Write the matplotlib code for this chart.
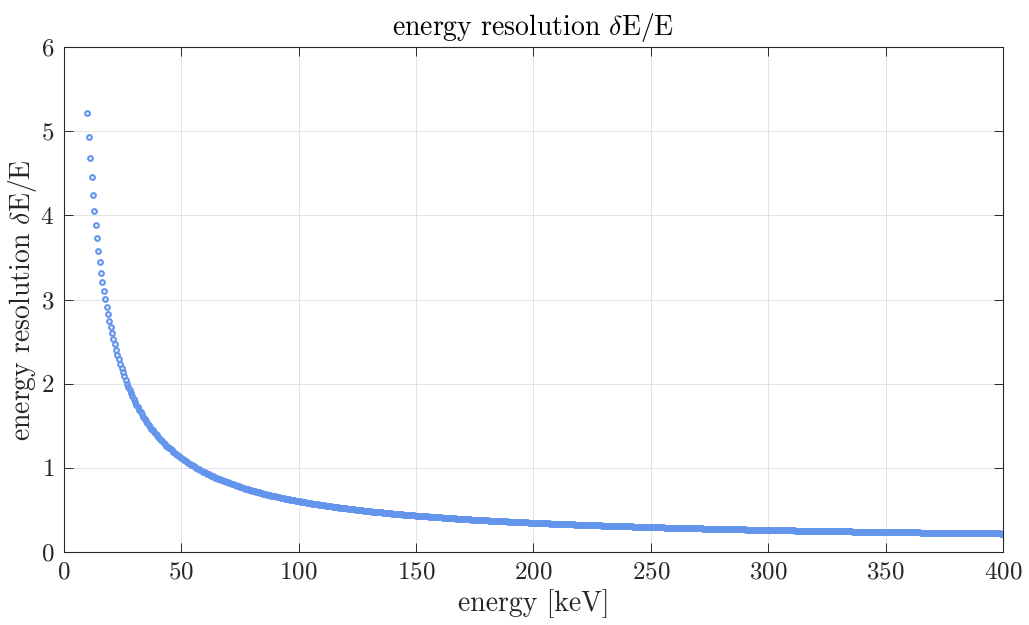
import numpy as np
import matplotlib
matplotlib.use("Agg")
import matplotlib.pyplot as plt

# energy grid of the measurement: starts at 10 keV, one point every 0.58 keV
energy_start = 10.0
energy_step = 0.58

# steep part, where the single circles can be read one by one
res_steep = [5.214, 4.928, 4.676, 4.451, 4.245, 4.055, 3.887, 3.726, 3.580, 3.447,
             3.320, 3.208, 3.103, 3.006, 2.914, 2.829, 2.747, 2.671, 2.598, 2.530,
             2.466, 2.404, 2.346, 2.290, 2.238, 2.186, 2.137, 2.090, 2.044, 2.001,
             1.959, 1.921, 1.884, 1.848, 1.814]

# flat tail (30.3 keV onwards), where the circles merge into one band
res_tail = [
    1.782, 1.750, 1.719, 1.690, 1.662, 1.634, 1.608, 1.582, 1.557, 1.533,
    1.510, 1.488, 1.466, 1.445, 1.424, 1.405, 1.385, 1.367, 1.348, 1.331,
    1.314, 1.297, 1.281, 1.265, 1.250, 1.235, 1.220, 1.206, 1.192, 1.178,
    1.165, 1.152, 1.140, 1.127, 1.115, 1.103, 1.092, 1.081, 1.070, 1.059,
    1.049, 1.038, 1.028, 1.018, 1.009, 0.999, 0.990, 0.981, 0.972, 0.963,
    0.955, 0.947, 0.938, 0.930, 0.922, 0.915, 0.907, 0.900, 0.892, 0.885,
    0.878, 0.871, 0.864, 0.857, 0.851, 0.844, 0.838, 0.832, 0.826, 0.820,
    0.814, 0.808, 0.802, 0.796, 0.791, 0.785, 0.780, 0.774, 0.769, 0.764,
    0.759, 0.754, 0.749, 0.744, 0.739, 0.735, 0.730, 0.725, 0.721, 0.716,
    0.712, 0.708, 0.703, 0.699, 0.695, 0.691, 0.687, 0.683, 0.679, 0.675,
    0.671, 0.667, 0.664, 0.660, 0.656, 0.653, 0.649, 0.646, 0.642, 0.639,
    0.635, 0.632, 0.629, 0.626, 0.622, 0.619, 0.616, 0.613, 0.610, 0.607,
    0.604, 0.601, 0.598, 0.595, 0.592, 0.589, 0.587, 0.584, 0.581, 0.578,
    0.576, 0.573, 0.570, 0.568, 0.565, 0.563, 0.560, 0.558, 0.555, 0.553,
    0.550, 0.548, 0.546, 0.543, 0.541, 0.539, 0.537, 0.534, 0.532, 0.530,
    0.528, 0.526, 0.523, 0.521, 0.519, 0.517, 0.515, 0.513, 0.511, 0.509,
    0.507, 0.505, 0.503, 0.501, 0.499, 0.498, 0.496, 0.494, 0.492, 0.490,
    0.488, 0.487, 0.485, 0.483, 0.481, 0.480, 0.478, 0.476, 0.475, 0.473,
    0.471, 0.470, 0.468, 0.466, 0.465, 0.463, 0.462, 0.460, 0.459, 0.457,
    0.456, 0.454, 0.453, 0.451, 0.450, 0.448, 0.447, 0.445, 0.444, 0.443,
    0.441, 0.440, 0.438, 0.437, 0.436, 0.434, 0.433, 0.432, 0.430, 0.429,
    0.428, 0.427, 0.425, 0.424, 0.423, 0.422, 0.420, 0.419, 0.418, 0.417,
    0.415, 0.414, 0.413, 0.412, 0.411, 0.410, 0.408, 0.407, 0.406, 0.405,
    0.404, 0.403, 0.402, 0.401, 0.400, 0.399, 0.397, 0.396, 0.395, 0.394,
    0.393, 0.392, 0.391, 0.390, 0.389, 0.388, 0.387, 0.386, 0.385, 0.384,
    0.383, 0.382, 0.381, 0.380, 0.379, 0.378, 0.378, 0.377, 0.376, 0.375,
    0.374, 0.373, 0.372, 0.371, 0.370, 0.369, 0.369, 0.368, 0.367, 0.366,
    0.365, 0.364, 0.363, 0.363, 0.362, 0.361, 0.360, 0.359, 0.358, 0.358,
    0.357, 0.356, 0.355, 0.354, 0.354, 0.353, 0.352, 0.351, 0.351, 0.350,
    0.349, 0.348, 0.348, 0.347, 0.346, 0.345, 0.345, 0.344, 0.343, 0.342,
    0.342, 0.341, 0.340, 0.340, 0.339, 0.338, 0.338, 0.337, 0.336, 0.336,
    0.335, 0.334, 0.334, 0.333, 0.332, 0.332, 0.331, 0.330, 0.330, 0.329,
    0.328, 0.328, 0.327, 0.326, 0.326, 0.325, 0.325, 0.324, 0.323, 0.323,
    0.322, 0.321, 0.321, 0.320, 0.320, 0.319, 0.319, 0.318, 0.317, 0.317,
    0.316, 0.316, 0.315, 0.314, 0.314, 0.313, 0.313, 0.312, 0.312, 0.311,
    0.311, 0.310, 0.310, 0.309, 0.308, 0.308, 0.307, 0.307, 0.306, 0.306,
    0.305, 0.305, 0.304, 0.304, 0.303, 0.303, 0.302, 0.302, 0.301, 0.301,
    0.300, 0.300, 0.299, 0.299, 0.298, 0.298, 0.297, 0.297, 0.296, 0.296,
    0.295, 0.295, 0.294, 0.294, 0.293, 0.293, 0.293, 0.292, 0.292, 0.291,
    0.291, 0.290, 0.290, 0.289, 0.289, 0.288, 0.288, 0.288, 0.287, 0.287,
    0.286, 0.286, 0.285, 0.285, 0.285, 0.284, 0.284, 0.283, 0.283, 0.282,
    0.282, 0.282, 0.281, 0.281, 0.280, 0.280, 0.280, 0.279, 0.279, 0.278,
    0.278, 0.278, 0.277, 0.277, 0.276, 0.276, 0.276, 0.275, 0.275, 0.275,
    0.274, 0.274, 0.273, 0.273, 0.273, 0.272, 0.272, 0.272, 0.271, 0.271,
    0.270, 0.270, 0.270, 0.269, 0.269, 0.269, 0.268, 0.268, 0.268, 0.267,
    0.267, 0.267, 0.266, 0.266, 0.265, 0.265, 0.265, 0.264, 0.264, 0.264,
    0.263, 0.263, 0.263, 0.262, 0.262, 0.262, 0.261, 0.261, 0.261, 0.260,
    0.260, 0.260, 0.259, 0.259, 0.259, 0.259, 0.258, 0.258, 0.258, 0.257,
    0.257, 0.257, 0.256, 0.256, 0.256, 0.255, 0.255, 0.255, 0.255, 0.254,
    0.254, 0.254, 0.253, 0.253, 0.253, 0.252, 0.252, 0.252, 0.252, 0.251,
    0.251, 0.251, 0.250, 0.250, 0.250, 0.250, 0.249, 0.249, 0.249, 0.248,
    0.248, 0.248, 0.248, 0.247, 0.247, 0.247, 0.246, 0.246, 0.246, 0.246,
    0.245, 0.245, 0.245, 0.245, 0.244, 0.244, 0.244, 0.243, 0.243, 0.243,
    0.243, 0.242, 0.242, 0.242, 0.242, 0.241, 0.241, 0.241, 0.241, 0.240,
    0.240, 0.240, 0.240, 0.239, 0.239, 0.239, 0.239, 0.238, 0.238, 0.238,
    0.238, 0.237, 0.237, 0.237, 0.237, 0.236, 0.236, 0.236, 0.236, 0.236,
    0.235, 0.235, 0.235, 0.235, 0.234, 0.234, 0.234, 0.234, 0.233, 0.233,
    0.233, 0.233, 0.232, 0.232, 0.232, 0.232, 0.232, 0.231, 0.231, 0.231,
    0.231, 0.230, 0.230, 0.230, 0.230, 0.230, 0.229, 0.229, 0.229, 0.229,
    0.229, 0.228, 0.228, 0.228, 0.228, 0.227, 0.227, 0.227, 0.227, 0.227,
    0.226, 0.226, 0.226, 0.226, 0.226, 0.225, 0.225, 0.225, 0.225, 0.225,
    0.224, 0.224, 0.224, 0.224, 0.224, 0.223, 0.223, 0.223, 0.223, 0.223,
    0.222, 0.222, 0.222, 0.222, 0.222, 0.221, 0.221, 0.221, 0.221, 0.221,
    0.220, 0.220, 0.220, 0.220, 0.220, 0.220, 0.219, 0.219,
]

x_ticks = [0, 50, 100, 150, 200, 250, 300, 350, 400]
y_ticks = [0, 1, 2, 3, 4, 5, 6]

plt.rcParams["font.family"] = "serif"
plt.rcParams["font.serif"] = ["cmr10"]
plt.rcParams["mathtext.fontset"] = "cm"
plt.rcParams["axes.formatter.use_mathtext"] = True

dark = "#262626"
blue = "#6495ED"

res = np.array(res_steep + res_tail)
energy = energy_start + energy_step * np.arange(len(res))

fig = plt.figure(figsize=(10.29, 6.25), dpi=100)
ax = fig.add_axes([0.0622, 0.1168, 0.9125, 0.808])

ax.plot(energy, res, linestyle="none", marker="o", markersize=3.4,
        markerfacecolor="none", markeredgecolor=blue, markeredgewidth=1.5)

ax.set_xlim(0, 400)
ax.set_ylim(0, 6)
ax.set_xticks(x_ticks)
ax.set_yticks(y_ticks)
ax.grid(True, color="#e3e3e3", linewidth=0.7)
ax.set_axisbelow(True)

ax.tick_params(direction="in", top=True, right=True, length=6.8, width=0.7,
               color=dark, labelcolor=dark, labelsize=18)
ax.tick_params(axis="x", pad=7)
ax.tick_params(axis="y", pad=7)
for s in ax.spines.values():
    s.set_color(dark)
    s.set_linewidth(0.8)

ax.set_title(r"energy resolution $\delta$E/E", fontsize=20, color="black", pad=9)
ax.set_xlabel("energy [keV]", fontsize=20, color=dark, labelpad=4)
ax.set_ylabel(r"energy resolution $\delta$E/E", fontsize=20, color=dark, labelpad=1)

fig.savefig("out.png", dpi=100)
